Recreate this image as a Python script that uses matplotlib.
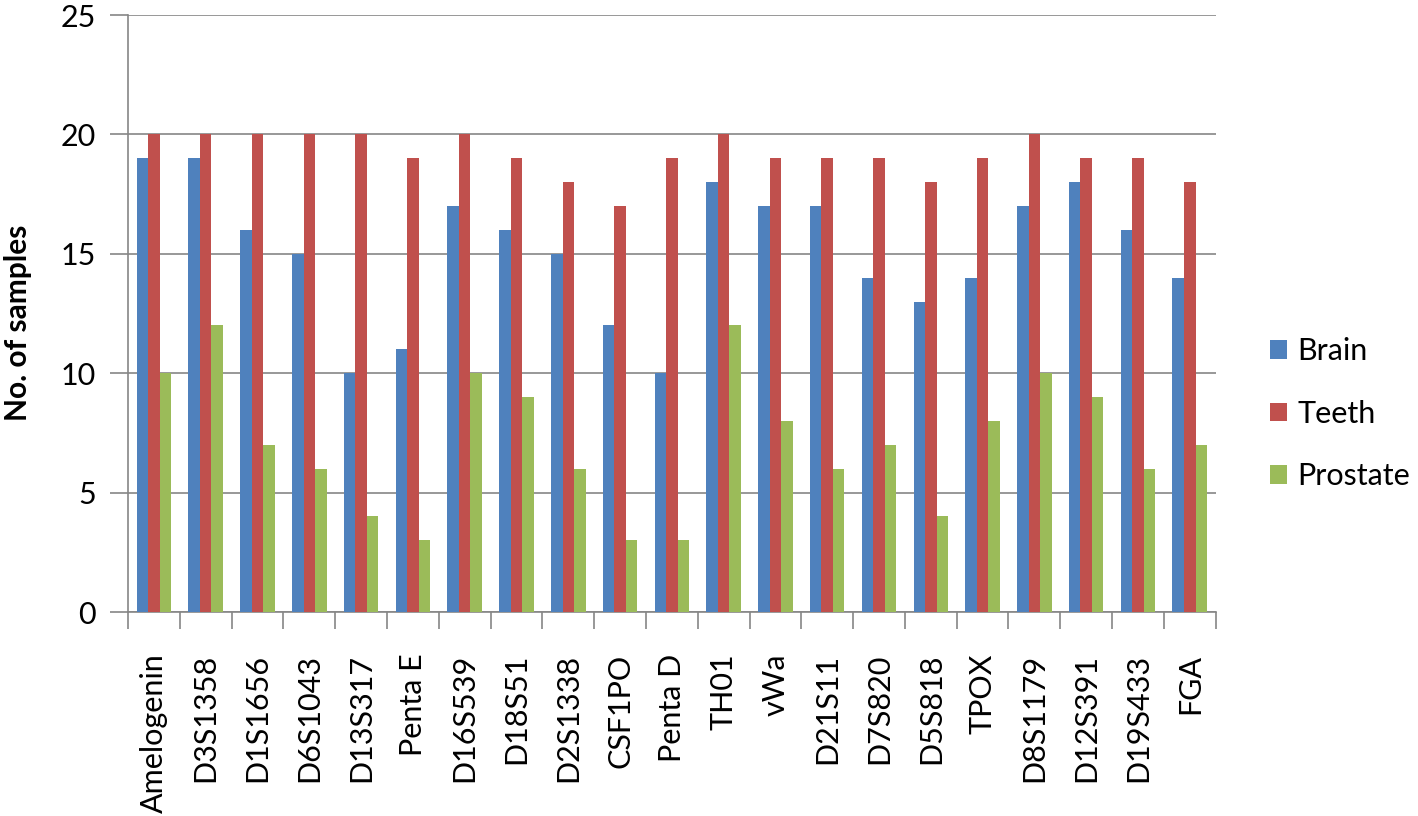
import numpy as np
import matplotlib.pyplot as plt

plt.rcParams['font.family'] = ['Lato', 'DejaVu Sans']

loci = ["Amelogenin", "D3S1358", "D1S1656", "D6S1043", "D13S317", "Penta E",
        "D16S539", "D18S51", "D2S1338", "CSF1PO", "Penta D", "TH01", "vWa",
        "D21S11", "D7S820", "D5S818", "TPOX", "D8S1179", "D12S391", "D19S433", "FGA"]
brain = [19, 19, 16, 15, 10, 11, 17, 16, 15, 12, 10, 18, 17, 17, 14, 13, 14, 17, 18, 16, 14]
teeth = [20, 20, 20, 20, 20, 19, 20, 19, 18, 17, 19, 20, 19, 19, 19, 18, 19, 20, 19, 19, 18]
prostate = [10, 12, 7, 6, 4, 3, 10, 9, 6, 3, 3, 12, 8, 6, 7, 4, 8, 10, 9, 6, 7]

series = [("Brain", brain, "#4F81BD"),
          ("Teeth", teeth, "#C0504D"),
          ("Prostate", prostate, "#9BBB59")]

fig = plt.figure(figsize=(14.18, 8.16), dpi=100)
ax = fig.add_axes([0.0903, 0.25, 0.767, 0.7316])

x = np.arange(len(loci))
w = 1 / 4.5
for i, (name, vals, col) in enumerate(series):
    ax.bar(x + (i - 1) * w, vals, width=w, color=col, label=name, zorder=3)

grid_col = "#868686"
ax.set_ylim(0, 25)
ax.set_yticks(range(0, 26, 5))
ax.set_xlim(-0.5, len(loci) - 0.5)
ax.yaxis.grid(True, color=grid_col, linewidth=1.2, zorder=0)

ax.set_xticks(x)
ax.set_xticklabels(loci, rotation=90, fontsize=22)
ax.set_xticks(np.arange(len(loci) + 1) - 0.5, minor=True)
ax.tick_params(axis='x', which='major', length=0, pad=30)
ax.tick_params(axis='x', which='minor', length=12, width=1.2, color=grid_col, direction='out')
ax.tick_params(axis='y', length=13, width=1.2, color=grid_col, labelsize=22, pad=10)

for s in ['top', 'right']:
    ax.spines[s].set_visible(False)
for s in ['left', 'bottom']:
    ax.spines[s].set_color(grid_col)
    ax.spines[s].set_linewidth(1.2)

ax.set_ylabel("No. of samples", fontsize=21.5, fontweight='bold')
ax.yaxis.set_label_coords(-0.088, 0.484)

ax.legend(loc='center left', bbox_to_anchor=(1.025, 0.332), frameon=False,
          fontsize=22, handlelength=0.55, handleheight=0.55, labelspacing=1.13,
          handletextpad=0.33)

fig.savefig("out.png", dpi=100)
